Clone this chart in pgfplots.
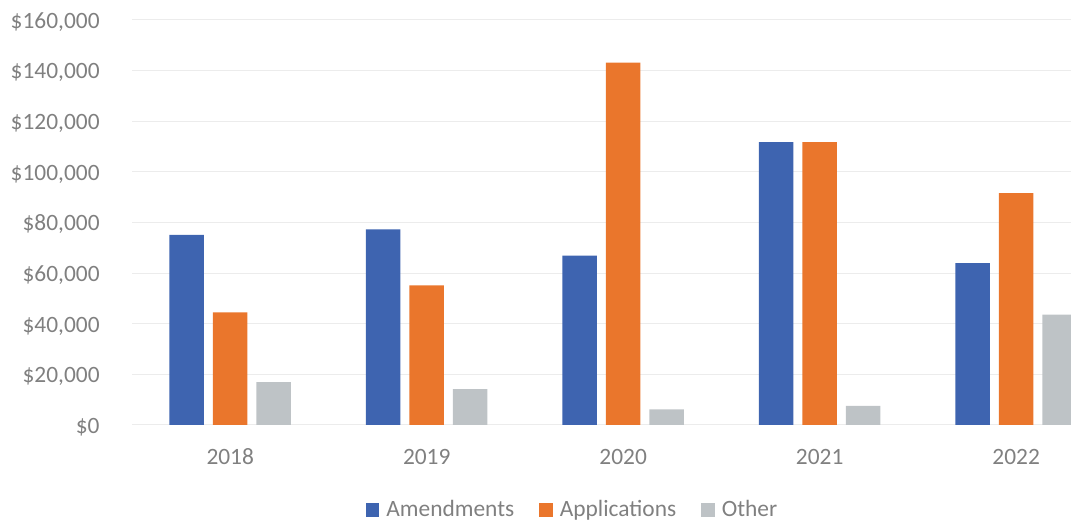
\documentclass[border=0pt]{standalone}
\usepackage{fontspec}
\setmainfont{Carlito}
\usepackage{pgfplots}
\pgfplotsset{compat=1.18}
\definecolor{cblue}{RGB}{62,100,176}
\definecolor{corange}{RGB}{234,118,44}
\definecolor{cgray}{RGB}{190,195,198}
\definecolor{ctext}{RGB}{128,128,128}
\definecolor{cgrid}{RGB}{236,236,236}
\begin{document}
\fontsize{11.7pt}{14pt}\selectfont
\begin{tikzpicture}
\useasboundingbox (-66pt,-48.5pt) rectangle (469.5pt,212.5pt);
\begin{axis}[
  at={(0pt,0pt)}, anchor=south west,
  scale only axis,
  width=469.5pt, height=202.5pt,
  xmin=-0.5, xmax=4.279,
  ymin=0, ymax=160000,
  ybar=4.5pt, bar width=17.25pt,
  axis line style={draw=none},
  major tick length=0pt,
  xtick={0,1,2,3,4},
  xticklabels={2018,2019,2020,2021,2022},
  ytick={0,20000,...,160000},
  scaled y ticks=false,
  ymajorgrids,
  major grid style={cgrid, line width=0.5pt},
  yticklabel={\$\pgfmathprintnumber[fixed, precision=0, 1000 sep={,}, assume math mode=true]{\tick}},
  yticklabel style={anchor=base east, inner sep=0pt, xshift=-16pt, yshift=-4.15pt, text=ctext, font=\fontsize{11.7pt}{14pt}\selectfont},
  xticklabel style={anchor=base, inner sep=0pt, yshift=-20pt, text=ctext, font=\fontsize{11.7pt}{14pt}\selectfont},
  legend style={at={(0.4718,-0.21)}, anchor=center, draw=none, fill=none,
    legend columns=-1, font=\fontsize{11.7pt}{14pt}\selectfont, text=ctext,
    /tikz/every even column/.append style={column sep=9pt},
    nodes={inner xsep=3.5pt, inner ysep=1.5pt}},
  legend image code/.code={\fill[#1] (0pt,-3.4pt) rectangle (6.8pt,3.4pt);},
  clip=true,
]
\addplot[fill=cblue, draw=none] coordinates {(0,75100) (1,77300) (2,66900) (3,111700) (4,63900)};
\addplot[fill=corange, draw=none] coordinates {(0,44500) (1,55200) (2,143200) (3,111700) (4,91600)};
\addplot[fill=cgray, draw=none] coordinates {(0,16900) (1,14200) (2,6200) (3,7600) (4,43600)};
\legend{Amendments, Applications, Other}
\end{axis}
\end{tikzpicture}
\end{document}
